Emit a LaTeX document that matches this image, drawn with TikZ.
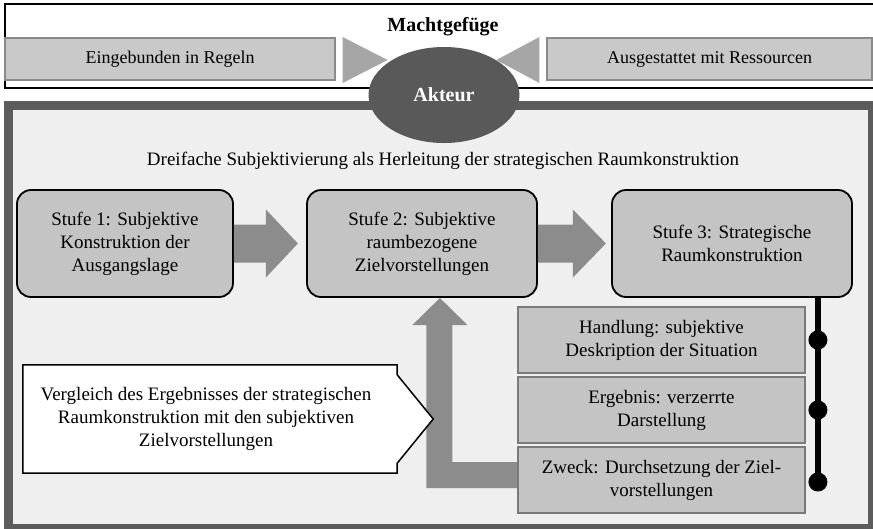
\documentclass[tikz,border=0pt]{standalone}
\usepackage{fontspec}
\setmainfont{Liberation Serif}
\usetikzlibrary{calc,shapes.geometric}
\definecolor{topgray}{HTML}{C9C9C9}
\definecolor{topedge}{HTML}{8A8A8A}
\definecolor{trigray}{HTML}{A6A6A6}
\definecolor{framegray}{HTML}{5C5C5C}
\definecolor{innergray}{HTML}{EFEFEF}
\definecolor{ellgray}{HTML}{595959}
\definecolor{stufegray}{HTML}{C4C4C4}
\definecolor{arrowgray}{HTML}{8C8C8C}
\definecolor{boxedge}{HTML}{7A7A7A}
\begin{document}
\begin{tikzpicture}[x=1pt,y=-1pt,
  bigfont/.style={font=\fontsize{19}{23}\selectfont},
  topbox/.style={draw=topedge, line width=1.2pt, fill=topgray, minimum height=42pt, inner sep=0pt, font=\fontsize{18}{21}\selectfont},
  tritip/.style={fill=trigray},
  stufebox/.style={draw=black, line width=1.8pt, rounded corners=14pt, fill=stufegray, minimum height=107pt, align=center, inner sep=0pt, bigfont},
  sidebox/.style={draw=boxedge, line width=1.2pt, fill=stufegray, minimum width=287pt, minimum height=66pt, align=center, inner sep=0pt, bigfont},
  blockarrow/.style={fill=arrowgray},
  spine/.style={line width=6pt, black},
  spinedot/.style={circle, fill=black, minimum size=19pt, inner sep=0pt}]
\useasboundingbox (0,0) rectangle (873,528);
\clip (0,0) rectangle (873,528);
% top frame
\draw[line width=2.2pt, fill=white] (5,4) rectangle (880,88);
\node[topbox, minimum width=330pt] (lr) at (170,59) {Eingebunden in Regeln};
\node[topbox, minimum width=325pt] (rr) at (709.5,59) {Ausgestattet mit Ressourcen};
\node[font=\fontsize{20}{23}\selectfont\bfseries] (macht) at (443,27) {Machtgefüge};
\fill[tritip] ($(lr.east)+(7,-22)$) -- ($(lr.east)+(52,1)$) -- ($(lr.east)+(7,24)$) -- cycle;
\fill[tritip] ($(rr.west)+(-7,-22)$) -- ($(rr.west)+(-50,1)$) -- ($(rr.west)+(-7,24)$) -- cycle;
% bottom frame
\draw[line width=9pt, draw=framegray, fill=innergray] (8.5,105) rectangle (872.5,528.5);
\node[ellipse, fill=ellgray, minimum width=151pt, minimum height=96pt, inner sep=0pt,
      text=white, font=\fontsize{20}{23}\selectfont\bfseries] (akteur) at (444,95) {Akteur};
\node[font=\fontsize{19}{22}\selectfont] (title) at (443,161) {Dreifache Subjektivierung als Herleitung der strategischen Raumkonstruktion};
% stages
\node[stufebox, minimum width=216pt] (s1) at (125,243.5) {Stufe 1: Subjektive\\Konstruktion der\\Ausgangslage};
\node[stufebox, minimum width=230pt] (s2) at (422,243.5) {Stufe 2: Subjektive\\raumbezogene\\Zielvorstellungen};
\node[stufebox, minimum width=240pt] (s3) at (732,243.5) {Stufe 3: Strategische\\Raumkonstruktion};
% block arrows between stages
\fill[blockarrow] ($(s1.east)+(0,-19)$) -- ++(32,0) -- ++(0,-15) -- ++(32,34) -- ++(-32,34) -- ++(0,-15) -- ++(-32,0) -- cycle;
\fill[blockarrow] ($(s2.east)+(0,-19)$) -- ++(35,0) -- ++(0,-15) -- ++(33,34) -- ++(-33,34) -- ++(0,-15) -- ++(-35,0) -- cycle;
% side boxes
\node[sidebox] (handlung) at (661.5,340) {Handlung: subjektive\\Deskription der Situation};
\node[sidebox] (ergebnis) at (661.5,410) {Ergebnis: verzerrte\\Darstellung};
\node[sidebox] (zweck) at (661.5,480) {Zweck: Durchsetzung der Ziel-\\vorstellungen};
% return arrow from Zweck up to Stufe 2
\fill[blockarrow] ($(zweck.west)+(2,-18)$) -- ++(-67,0) -- ++(0,-137) -- ++(15,0) -- ++(-27.5,-27) -- ++(-27.5,27) -- ++(14,0) -- ++(0,163) -- ++(93,0) -- cycle;
\node[sidebox] at (zweck.center) {Zweck: Durchsetzung der Ziel-\\vorstellungen};
% spine with dots
\coordinate (lt) at ($(s3.south east)+(-35,0)$);
\node[spinedot] (d1) at (handlung.east -| lt) {};
\node[spinedot] (d2) at (ergebnis.east -| lt) {};
\node[spinedot] (d3) at ($(zweck.east -| lt)+(0,2)$) {};
\draw[spine] (lt) -- (d3.center);
% comparison box
\node[minimum width=374pt, minimum height=108pt, inner sep=0pt] (vglbox) at (210,419) {};
\draw[line width=1.5pt, fill=white] (vglbox.north west) -- (vglbox.north east) -- ++(0,10) -- ($(vglbox.east)+(36,0)$) -- ($(vglbox.south east)+(0,-10)$) -- (vglbox.south east) -- (vglbox.south west) -- cycle;
\node[bigfont, align=center] (vgl) at ($(vglbox.center)+(-4,0)$) {Vergleich des Ergebnisses der strategischen\\Raumkonstruktion mit den subjektiven\\Zielvorstellungen};
\end{tikzpicture}
\end{document}
